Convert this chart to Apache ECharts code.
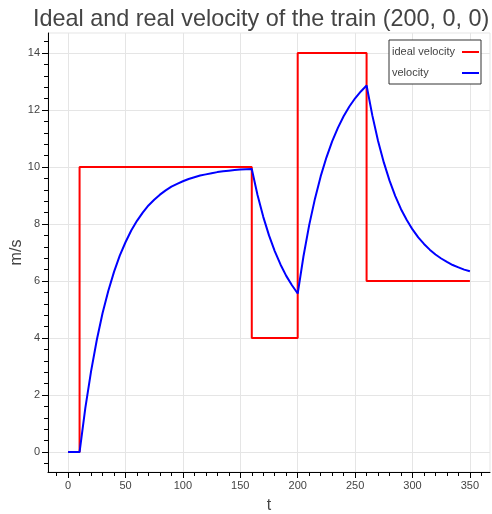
<!DOCTYPE html>
<html>
<head>
<meta charset="utf-8">
<script src="https://cdn.jsdelivr.net/npm/echarts@6/dist/echarts.min.js"></script>
<style>
	html, body { margin: 0; padding: 0; background: #fff; }
	#chart { width: 492px; height: 514px; }
</style>
</head>
<body>
<div id="chart"></div>
<script>
// ideal velocity: step corners (value holds until next time)
const idealT = [0, 10, 160, 200, 260, 350]
const idealV = [0, 10, 4, 14, 6, 6]

// real velocity
const time = [0, 10, 15, 20, 25, 30, 35, 40, 45, 50, 55, 60, 65, 70, 75, 80, 85, 90, 95, 100,
	105, 110, 115, 120, 125, 130, 135, 140, 145, 150, 155, 160, 165, 170, 175, 180, 185, 190, 195, 200,
	205, 210, 215, 220, 225, 230, 235, 240, 245, 250, 255, 260, 265, 270, 275, 280, 285, 290, 295, 300,
	305, 310, 315, 320, 325, 330, 335, 340, 345, 350]
const velocity = [0, 0, 1.54, 2.83, 3.93, 4.87, 5.65, 6.32, 6.89, 7.36, 7.77, 8.11, 8.40, 8.65, 8.85, 9.03, 9.18, 9.31, 9.41, 9.50,
	9.58, 9.64, 9.70, 9.74, 9.78, 9.82, 9.85, 9.87, 9.89, 9.91, 9.92, 9.93, 9.02, 8.25, 7.60, 7.05, 6.58, 6.18, 5.85, 5.56,
	6.86, 7.96, 8.88, 9.67, 10.33, 10.90, 11.37, 11.78, 12.12, 12.41, 12.65, 12.86, 11.81, 10.91, 10.16, 9.52, 8.98, 8.52, 8.14, 7.81,
	7.53, 7.30, 7.10, 6.93, 6.79, 6.67, 6.56, 6.48, 6.40, 6.34]

// ticks
const xTicks = [0, 50, 100, 150, 200, 250, 300, 350]
const xMinor = [-10, 0, 10, 20, 30, 40, 50, 60, 70, 80, 90, 100, 110, 120, 130, 140, 150, 160, 170, 180,
	190, 200, 210, 220, 230, 240, 250, 260, 270, 280, 290, 300, 310, 320, 330, 340, 350, 360]
const yTicks = [0, 2, 4, 6, 8, 10, 12, 14]
const yMinor = [-0.4, 0, 0.4, 0.8, 1.2, 1.6, 2, 2.4, 2.8, 3.2, 3.6, 4, 4.4, 4.8, 5.2, 5.6, 6, 6.4, 6.8,
	7.2, 7.6, 8, 8.4, 8.8, 9.2, 9.6, 10, 10.4, 10.8, 11.2, 11.6, 12, 12.4, 12.8, 13.2, 13.6, 14, 14.4]

const xRange = [-17.5, 367.5]
const yRange = [-0.7, 14.7]

const font = 'Arial, "Liberation Sans", Helvetica, sans-serif'
const black = { color: '#000', width: 1 }

function mainAxis(pos, range, ticks, name, gap) {
	return {
		type: 'value', position: pos, min: range[0], max: range[1],
		name: name, nameLocation: 'middle', nameGap: gap, nameMoveOverlap: false,
		nameTextStyle: { fontSize: 16, color: '#444', fontFamily: font },
		axisLine: { show: true, onZero: false, lineStyle: black },
		axisTick: { show: true, customValues: ticks, length: 6, lineStyle: black },
		axisLabel: { customValues: ticks, color: '#444', fontSize: 11, fontFamily: font, margin: 8 },
		splitLine: { show: true, lineStyle: { color: '#e5e5e5', width: 1 } },
		minorTick: { show: false }
	}
}

function minorAxis(pos, range, ticks) {
	return {
		type: 'value', position: pos, min: range[0], max: range[1],
		axisLine: { show: false, onZero: false },
		axisTick: { show: true, customValues: ticks, length: 4, lineStyle: black },
		axisLabel: { show: false },
		splitLine: { show: false }
	}
}

const chart = echarts.init(document.getElementById('chart'))
chart.setOption({
	animation: false,
	backgroundColor: '#fff',
	title: {
		text: 'Ideal and real velocity of the train (200, 0, 0)',
		left: 28, top: 3,
		textStyle: { fontSize: 23.4, fontWeight: 'normal', color: '#444', fontFamily: font }
	},
	grid: {
		left: 48, right: 2, top: 33, bottom: 42,
		outerBoundsMode: 'none',
		show: true, borderColor: '#e5e5e5', borderWidth: 1
	},
	legend: {
		data: ['ideal velocity', 'velocity'],
		orient: 'vertical', align: 'right',
		right: 11, top: 40,
		icon: 'rect', itemWidth: 17, itemHeight: 2, itemGap: 7,
		padding: [5, 2, 4, 3],
		borderColor: '#333', borderWidth: 1, backgroundColor: '#fff',
		formatter: '{a|{name}}',
		textStyle: {
			fontSize: 11, color: '#444', fontFamily: font, lineHeight: 14,
			rich: { a: { width: 65, align: 'left', fontSize: 11, color: '#444', fontFamily: font, lineHeight: 14 } }
		}
	},
	xAxis: [
		mainAxis('bottom', xRange, xTicks, 't', 26),
		minorAxis('bottom', xRange, xMinor)
	],
	yAxis: [
		mainAxis('left', yRange, yTicks, 'm/s', 23),
		minorAxis('left', yRange, yMinor)
	],
	series: [
		{
			name: 'ideal velocity', type: 'line', step: 'end',
			data: idealT.map((t, i) => [t, idealV[i]]),
			showSymbol: false, symbol: 'none',
			lineStyle: { color: '#ff0000', width: 2 },
			itemStyle: { color: '#ff0000' }
		},
		{
			name: 'velocity', type: 'line',
			data: time.map((t, i) => [t, velocity[i]]),
			showSymbol: false, symbol: 'none',
			lineStyle: { color: '#0000ff', width: 2 },
			itemStyle: { color: '#0000ff' }
		}
	]
})
</script>
</body>
</html>
